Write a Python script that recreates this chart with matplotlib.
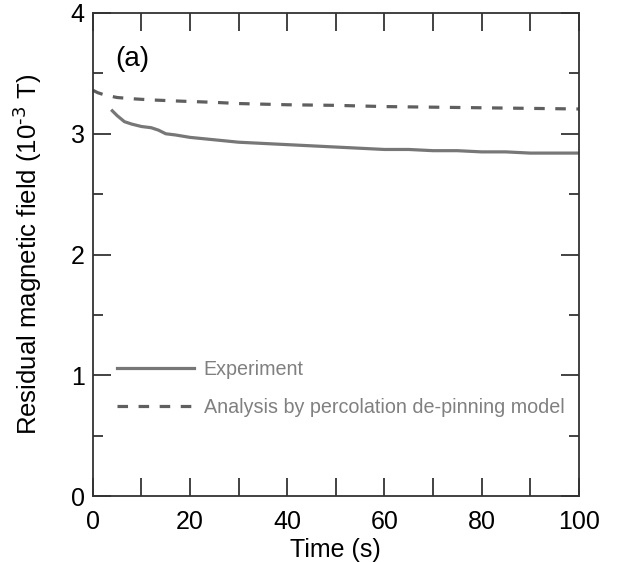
import numpy as np
import matplotlib.pyplot as plt
from matplotlib.ticker import MultipleLocator

plt.rcParams['font.family'] = ['Liberation Sans', 'DejaVu Sans']

# Experiment
t_exp = [4.0, 5.0, 6.5, 8.0, 10.0, 12.0, 13.5, 15.0, 17.0, 20.0, 25.0, 30.0, 35.0,
         40.0, 45.0, 50.0, 55.0, 60.0, 65.0, 70.0, 75.0, 80.0, 85.0, 90.0, 95.0, 100.0]
b_exp = [3.19, 3.15, 3.10, 3.08, 3.06, 3.05, 3.03, 3.00, 2.99, 2.97, 2.95, 2.93, 2.92,
         2.91, 2.90, 2.89, 2.88, 2.87, 2.87, 2.86, 2.86, 2.85, 2.85, 2.84, 2.84, 2.84]

# Percolation de-pinning model
t_mod = [0.0, 1.0, 2.5, 5.0, 8.0, 12.0, 18.0, 25.0, 30.0, 40.0, 50.0, 60.0, 70.0,
         80.0, 90.0, 100.0]
b_mod = [3.36, 3.34, 3.32, 3.30, 3.29, 3.28, 3.27, 3.26, 3.25, 3.24, 3.235, 3.225,
         3.22, 3.215, 3.21, 3.205]

fig = plt.figure(figsize=(6.19, 5.62), dpi=100)
ax = fig.add_axes([0.150, 0.117, 0.785, 0.860])

ax.plot(t_exp, b_exp, color='#777777', lw=2.3, label='Experiment')
ax.plot(t_mod, b_mod, color='#5f5f5f', lw=2.3, ls=(0, (3.3, 3.3)),
        label='Analysis by percolation de-pinning model')

ax.set_xlim(0, 100)
ax.set_ylim(0, 4)
ax.xaxis.set_major_locator(MultipleLocator(20))
ax.xaxis.set_minor_locator(MultipleLocator(10))
ax.yaxis.set_major_locator(MultipleLocator(1))
ax.yaxis.set_minor_locator(MultipleLocator(0.5))
ax.tick_params(which='both', direction='in', top=True, right=True, labelsize=18,
               color='#222222')
ax.tick_params(which='major', length=13, width=1.2)
ax.tick_params(which='minor', length=7, width=1.2)
ax.tick_params(axis='x', which='minor', length=13)
ax.tick_params(axis='x', pad=10)
ax.tick_params(axis='y', pad=6)
for s in ax.spines.values():
    s.set_color('#333333')
    s.set_linewidth(1.3)

ax.set_xlabel('Time (s)', fontsize=18, labelpad=3)
ax.set_ylabel('Residual magnetic field (10$^{\\text{-3}}$ T)', fontsize=18.5,
              labelpad=19)
ax.text(0.047, 0.905, '(a)', transform=ax.transAxes, fontsize=20, va='center')

leg = ax.legend(loc='upper left', bbox_to_anchor=(0.013, 0.318), frameon=False,
                fontsize=14.2, handlelength=3.9, handletextpad=0.5,
                labelspacing=0.95, labelcolor='#808080')

fig.savefig('out.png', dpi=100)
